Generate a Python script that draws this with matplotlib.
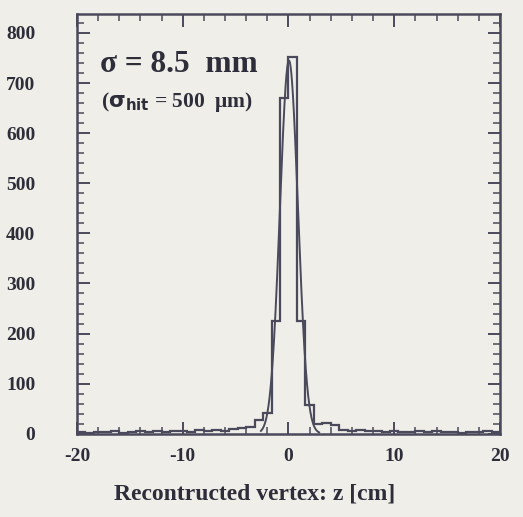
import numpy as np
import matplotlib
matplotlib.use("Agg")
import matplotlib.pyplot as plt
from matplotlib.ticker import MultipleLocator

# Histogram: 50 bins of 0.8 cm from -20 to 20
bin_edges_lo = -20.0
bin_width = 0.8
counts = [
    3, 2, 4, 3, 5, 2, 4, 6, 3, 5,      # -20 .. -12
    4, 6, 5, 3, 7, 5, 8, 6, 9, 12,     # -12 .. -4
    14, 28, 42, 225, 670, 753, 225, 58, 20, 22,  # -4 .. 4
    18, 8, 6, 7, 5, 6, 4, 5, 3, 4,     # 4 .. 12
    6, 3, 5, 4, 3, 2, 4, 3, 5, 4,      # 12 .. 20
]
# Gaussian fit parameters
fit_amp = 745.0
fit_mean = 0.05
fit_sigma = 0.85
fit_range = (-2.6, 2.9)

xticks = [-20, -10, 0, 10, 20]
yticks = [0, 100, 200, 300, 400, 500, 600, 700, 800]
xlabel = "Recontructed vertex: z [cm]"

bg = "#efeee8"
ink = "#4a4a5c"
txt = "#2e2e3a"

fig = plt.figure(figsize=(5.23, 5.17), dpi=100, facecolor=bg)
ax = fig.add_axes([0.147, 0.161, 0.809, 0.812], facecolor=bg)

edges = bin_edges_lo + bin_width * np.arange(len(counts) + 1)
ax.stairs(counts, edges, color=ink, lw=1.6)

xf = np.linspace(fit_range[0], fit_range[1], 400)
yf = fit_amp * np.exp(-0.5 * ((xf - fit_mean) / fit_sigma) ** 2)
ax.plot(xf, yf, color=ink, lw=1.4)

ax.set_xlim(-20, 20)
ax.set_ylim(0, 838)
ax.set_xticks(xticks)
ax.set_yticks(yticks)
ax.xaxis.set_minor_locator(MultipleLocator(2))
ax.yaxis.set_minor_locator(MultipleLocator(20))

tick_font = dict(family="Liberation Serif", weight="bold", size=14)
ax.set_xticklabels([str(t) for t in xticks], fontdict=tick_font, color=txt)
ax.set_yticklabels([str(t) for t in yticks], fontdict=tick_font, color=txt)

ax.tick_params(which="both", direction="in", top=True, right=True, color=ink)
ax.tick_params(which="major", length=9, width=1.4)
ax.tick_params(which="minor", length=5, width=1.1)
ax.tick_params(axis="y", which="major", pad=30)
ax.tick_params(axis="x", which="major", pad=10)

for s in ax.spines.values():
    s.set_color(ink)
    s.set_linewidth(1.8)

ax.set_xlabel(xlabel, family="Liberation Serif", weight="bold", size=17,
              color=txt)
ax.xaxis.set_label_coords(0.42, -0.118)

ax.text(0.055, 0.879, "σ = 8.5  mm", transform=ax.transAxes,
        family="Liberation Serif", weight="bold", size=22.5, color=txt,
        va="center", ha="left")
ax.text(0.058, 0.79, r"($\mathbf{\sigma_{hit}}$ = 500  μm)", transform=ax.transAxes,
        family="Liberation Serif", weight="bold", size=15.5, color=txt,
        va="center", ha="left")

fig.savefig("out.png", dpi=100, facecolor=bg)
